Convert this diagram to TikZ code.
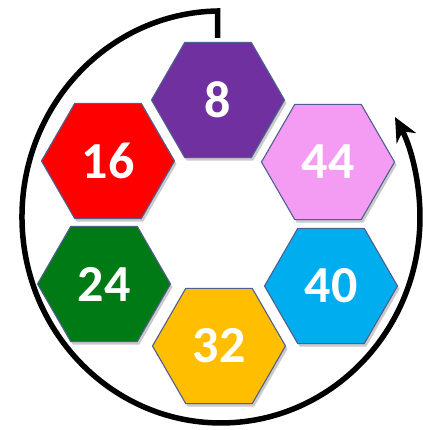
\documentclass[tikz,border=0pt]{standalone}
\usepackage{fontspec}
\setmainfont{Carlito}
\usepackage{xcolor}
\usetikzlibrary{arrows.meta,shapes.geometric,shadows}

\definecolor{hexpurple}{HTML}{7030A0}
\definecolor{hexred}{HTML}{FF0000}
\definecolor{hexpink}{HTML}{F49CF4}
\definecolor{hexgreen}{HTML}{007A14}
\definecolor{hexblue}{HTML}{00ADEF}
\definecolor{hexyellow}{HTML}{FFBF00}
\definecolor{hexline}{HTML}{4F5F8F}

\begin{document}
\begin{tikzpicture}[x=1pt, y=1pt,
  hexa/.style={regular polygon, regular polygon sides=6, draw=hexline,
               line width=1.1pt, inner sep=0pt, minimum size=133pt,
               text=white, font=\fontsize{52}{52}\selectfont\bfseries,
               drop shadow={shadow xshift=2pt, shadow yshift=-3pt,
                            opacity=0.35, fill=black!60}},
  ring/.style={line width=5.5pt, -{Stealth[length=24pt, width=22pt]}},
]
  \useasboundingbox (0,0) rectangle (422,430);

  \node[hexa, fill=hexpurple] (h8)  at (218,330) {8};
  \node[hexa, fill=hexred]    (h16) at (108,269) {16};
  \node[hexa, fill=hexpink]   (h44) at (328,268) {44};
  \node[hexa, fill=hexgreen]  (h24) at (104,146) {24};
  \node[hexa, fill=hexblue]   (h40) at (331,144) {40};
  \node[hexa, fill=hexyellow] (h32) at (219,84)  {32};

  % circular arrow round the ring
  \coordinate (stub)  at (217.5,392);
  \coordinate (start) at (217.5,419);
  \draw[ring] (stub) -- (start)
    arc[start angle=91, end angle=389, x radius=199, y radius=206];
\end{tikzpicture}
\end{document}
